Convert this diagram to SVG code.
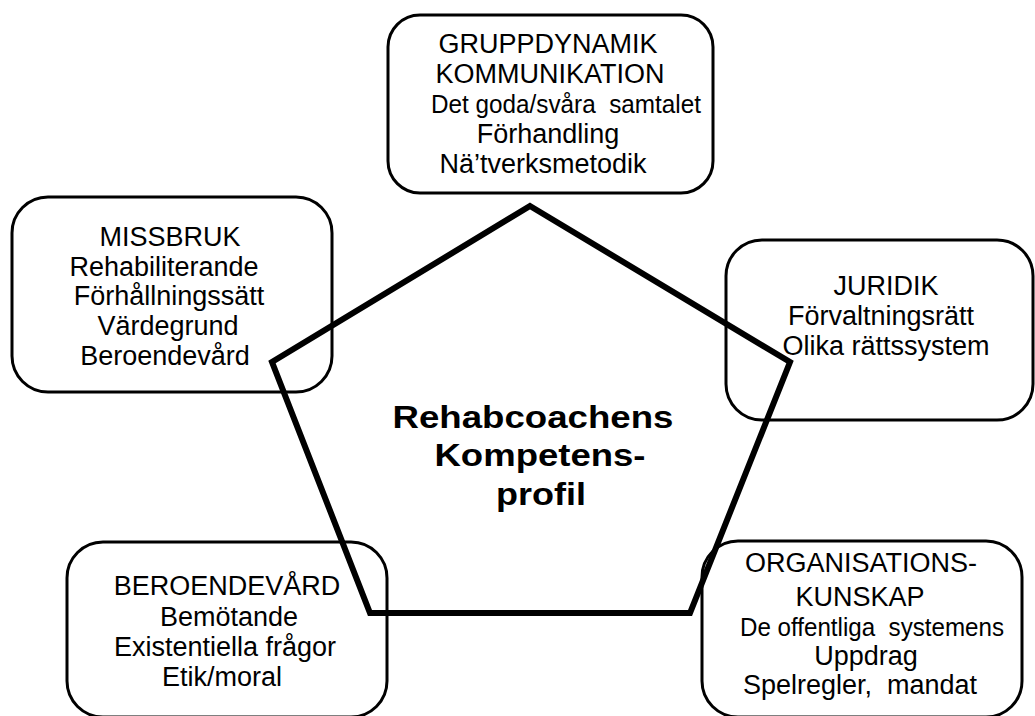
<svg xmlns="http://www.w3.org/2000/svg" width="1035" height="716" viewBox="0 0 1035 716">
  <style>
    .box { fill: none; stroke: #000; stroke-width: 3; }
    .penta { fill: none; stroke: #000; stroke-width: 6; stroke-linejoin: miter; }
    .t { font-family: "Liberation Sans", Arial, sans-serif; font-size: 27px; fill: #000; text-anchor: middle; }
    .tight { font-size: 25.5px; }
    .title { font-family: "Liberation Sans", Arial, sans-serif; font-size: 32px; font-weight: bold; fill: #000; text-anchor: middle; }
  </style>
  <rect width="1035" height="716" fill="#fff"/>

  <!-- top: group dynamics / communication -->
  <g id="gruppdynamik">
    <rect class="box" x="388" y="15" width="325" height="178" rx="32"/>
    <text class="t" x="548" y="53">GRUPPDYNAMIK</text>
    <text class="t" x="550" y="83">KOMMUNIKATION</text>
    <text class="t tight" x="566" y="113" xml:space="preserve" textLength="270" lengthAdjust="spacingAndGlyphs">Det goda/svåra  samtalet</text>
    <text class="t" x="548" y="143">Förhandling</text>
    <text class="t" x="543" y="173">Nä’tverksmetodik</text>
  </g>

  <!-- upper left: substance abuse -->
  <g id="missbruk">
    <rect class="box" x="12" y="197" width="320" height="195" rx="36"/>
    <text class="t" x="170" y="246">MISSBRUK</text>
    <text class="t" x="164" y="276">Rehabiliterande</text>
    <text class="t" x="169" y="305">Förhållningssätt</text>
    <text class="t" x="168" y="335">Värdegrund</text>
    <text class="t" x="165" y="365">Beroendevård</text>
  </g>

  <!-- upper right: law -->
  <g id="juridik">
    <rect class="box" x="726" y="240" width="307" height="180" rx="36"/>
    <text class="t" x="886" y="295">JURIDIK</text>
    <text class="t" x="881" y="325">Förvaltningsrätt</text>
    <text class="t" x="886" y="355">Olika rättssystem</text>
  </g>

  <!-- lower left: addiction care -->
  <g id="beroendevard">
    <rect class="box" x="67" y="542" width="320" height="175" rx="36"/>
    <text class="t" x="227" y="595">BEROENDEVÅRD</text>
    <text class="t" x="229" y="626">Bemötande</text>
    <text class="t" x="225" y="656">Existentiella frågor</text>
    <text class="t" x="222" y="686">Etik/moral</text>
  </g>

  <!-- lower right: organisational knowledge -->
  <g id="organisation">
    <rect class="box" x="702" y="541" width="320" height="176" rx="36"/>
    <text class="t" x="861" y="572">ORGANISATIONS-</text>
    <text class="t" x="860" y="606">KUNSKAP</text>
    <text class="t tight" x="872" y="636" xml:space="preserve" textLength="264" lengthAdjust="spacingAndGlyphs">De offentliga  systemens</text>
    <text class="t" x="866" y="665">Uppdrag</text>
    <text class="t" x="860" y="694" xml:space="preserve">Spelregler,  mandat</text>
  </g>

  <!-- centre: competence profile -->
  <g id="kompetensprofil">
    <polygon class="penta" points="530,206 790,362 690,613 370,613 272,362"/>
    <text class="title" x="533" y="428" textLength="281" lengthAdjust="spacingAndGlyphs">Rehabcoachens</text>
    <text class="title" x="540" y="466" textLength="211" lengthAdjust="spacingAndGlyphs">Kompetens-</text>
    <text class="title" x="541" y="505" textLength="90" lengthAdjust="spacingAndGlyphs">profil</text>
  </g>

  <g id="connectors"/>
</svg>
